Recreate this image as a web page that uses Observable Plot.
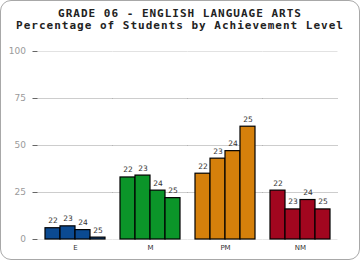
<!DOCTYPE html>
<html>
<head>
<meta charset="utf-8">
<script src="https://cdn.jsdelivr.net/npm/d3@7"></script>
<script src="https://cdn.jsdelivr.net/npm/@observablehq/plot@0.6"></script>
<style>
  html, body { margin: 0; padding: 0; background: #fff; }
  #wrap { position: relative; width: 360px; height: 260px; overflow: hidden; }
  #border { position: absolute; left: 0; top: 0; width: 360px; height: 260px; box-sizing: border-box;
            border: 1.5px solid #a8a8a8; border-radius: 11px; pointer-events: none; }
  #title { position: absolute; left: 0; top: 8px; width: 360px; text-align: center;
           font-family: "DejaVu Sans Mono", monospace; font-weight: bold; font-size: 11px;
           letter-spacing: 1px; line-height: 11.5px; color: #222; }
  #chart { position: absolute; left: 0; top: 30px; }
</style>
</head>
<body>
<div id="wrap">
  <div id="title">GRADE 06 - ENGLISH LANGUAGE ARTS<br>Percentage of Students by Achievement Level</div>
  <div id="chart"></div>
  <div id="border"></div>
</div>
<script>
const levels = ["E", "M", "PM", "NM"];
const years = ["22", "23", "24", "25"];
const valuesE = [6, 7, 5, 1];
const valuesM = [33, 34, 26, 22];
const valuesPM = [35, 43, 47, 60];
const valuesNM = [26, 16, 21, 16];
const levelColors = ["#0b4a92", "#0b9529", "#d5800b", "#a2061f"];
const yTicks = [0, 25, 50, 75, 100];
const gridValues = [25, 50, 75];

const series = {E: valuesE, M: valuesM, PM: valuesPM, NM: valuesNM};
const data = levels.flatMap(level => years.map((year, i) => ({level, year, value: series[level][i]})));

const chart = Plot.plot({
  width: 360,
  height: 230,
  marginLeft: 37.5,
  marginRight: 22.5,
  marginTop: 21,
  marginBottom: 21,
  style: {background: "transparent", fontFamily: "DejaVu Sans, sans-serif"},
  fx: {domain: levels, padding: 0, round: false, label: null},
  x: {domain: years, paddingInner: 0, paddingOuter: 0.5, round: false, axis: null},
  y: {domain: [0, 100], label: null},
  color: {domain: levels, range: levelColors},
  marks: [
    Plot.ruleY(gridValues, {stroke: "#9a9a9a", strokeWidth: 1, strokeDasharray: "1,1"}),
    Plot.ruleY([100], {stroke: "#e2e2e2"}),
    Plot.ruleY([0], {stroke: "#e8e8e8"}),
    Plot.axisY({ticks: [], line: true, stroke: "#dcdcdc", tickSize: 0, label: null}),
    Plot.axisY({anchor: "right", ticks: [], line: true, stroke: "#dcdcdc", tickSize: 0, label: null}),
    Plot.axisY({ticks: yTicks, tickSize: 5, tickPadding: 7, stroke: "#666", fill: "#9a9a9a",
                fontSize: 9, letterSpacing: "0.9px", label: null}),
    Plot.axisFx({anchor: "bottom", tickSize: 0, tickPadding: 6, fontSize: 7, fill: "#333", label: null}),
    Plot.barY(data, {fx: "level", x: "year", y: "value", fill: "level", stroke: "#000", strokeWidth: 1.2}),
    Plot.text(data, {fx: "level", x: "year", y: "value", text: "year", lineAnchor: "bottom", dy: -5,
                     fontSize: 7.5, fill: "#333"})
  ]
});
document.getElementById("chart").appendChild(chart);
</script>
</body>
</html>
